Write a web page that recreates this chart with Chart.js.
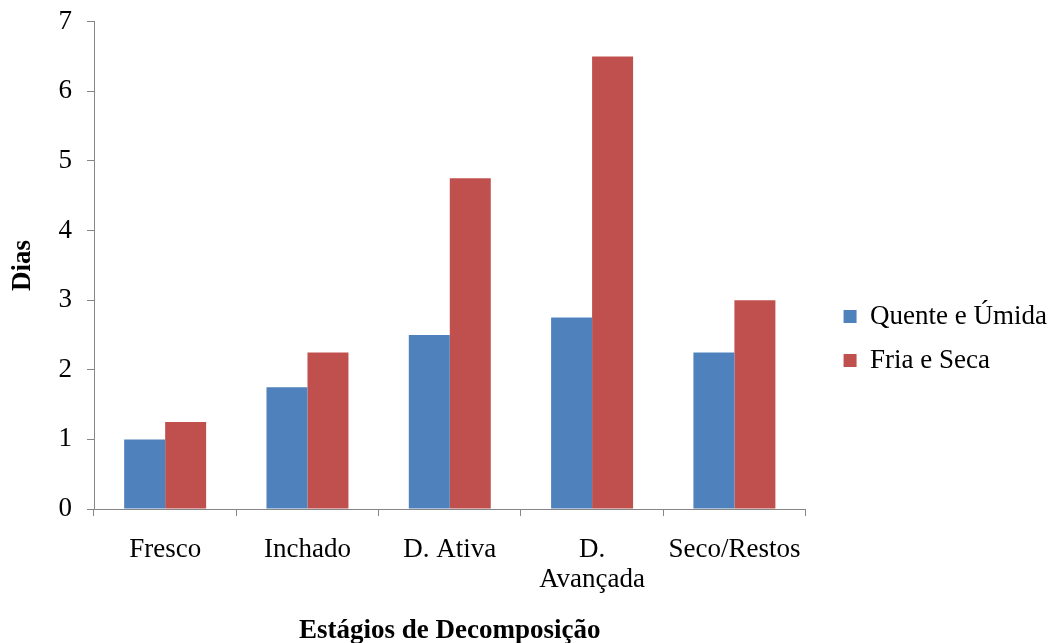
<!DOCTYPE html>
<html>
<head>
<meta charset="utf-8">
<script src="https://cdn.jsdelivr.net/npm/chart.js@4"></script>
<style>
  html, body { margin: 0; padding: 0; background: #fff; }
  #wrap { width: 1053px; height: 643px; }
</style>
</head>
<body>
<div id="wrap"><canvas id="chart"></canvas></div>
<script>
// dados
var estagios = ['Fresco', 'Inchado', 'D. Ativa', ['D.', 'Avançada'], 'Seco/Restos'];
var quenteUmida = [1, 1.75, 2.5, 2.75, 2.25];
var friaSeca = [1.25, 2.25, 4.75, 6.5, 3];
var diasTicks = [0, 1, 2, 3, 4, 5, 6, 7];

var fonte = 'Liberation Serif, Times New Roman, serif';
var cinza = '#868686';

// alarga a caixa da legenda e empurra os itens para a direita
var ajusteLegenda = {
    id: 'ajusteLegenda',
    beforeLayout: function (chart) {
        var lg = chart.legend;
        if (lg && !lg._ajustado) {
            var fitOrig = lg.fit;
            lg.fit = function () {
                fitOrig.call(this);
                this.width += 17;
            };
            lg._ajustado = true;
        }
    },
    afterLayout: function (chart) {
        var lg = chart.legend;
        lg.left += 21;
        lg.top += 13;
    }
};

var ctx = document.getElementById('chart').getContext('2d');
var chart = new Chart(ctx, {
    type: 'bar',
    data: {
        labels: estagios,
        datasets: [{
            label: 'Quente e Úmida',
            data: quenteUmida,
            backgroundColor: '#4F81BD'
        }, {
            label: 'Fria e Seca',
            data: friaSeca,
            backgroundColor: '#C0504D'
        }]
    },
    options: {
        responsive: true,
        maintainAspectRatio: false,
        animation: false,
        datasets: {
            bar: { categoryPercentage: 0.576, barPercentage: 1 }
        },
        layout: { padding: { top: 21, right: 0, left: 0, bottom: 0 } },
        plugins: {
            tooltip: { enabled: false },
            legend: {
                position: 'right',
                labels: {
                    color: '#000',
                    font: { family: fonte, size: 27 },
                    boxWidth: 13,
                    boxHeight: 13,
                    padding: 17
                }
            }
        },
        scales: {
            x: {
                grid: { drawOnChartArea: false, drawTicks: true, tickLength: 7, color: cinza },
                border: { color: cinza, width: 1 },
                ticks: {
                    color: '#000',
                    font: { family: fonte, size: 27, lineHeight: 1.12 },
                    padding: 19,
                    maxRotation: 0,
                    autoSkip: false
                },
                title: {
                    display: true,
                    text: 'Estágios de Decomposição',
                    color: '#000',
                    font: { family: fonte, size: 27, weight: 'bold', lineHeight: 0.9 },
                    padding: { top: 0, bottom: 0 }
                },
                afterFit: function (scale) { scale.height = 134; }
            },
            y: {
                min: 0,
                max: 7,
                afterBuildTicks: function (scale) {
                    scale.ticks = diasTicks.map(function (v) { return { value: v }; });
                },
                grid: { drawOnChartArea: false, drawTicks: true, tickLength: 7, color: cinza },
                border: { color: cinza, width: 1 },
                ticks: {
                    color: '#000',
                    font: { family: fonte, size: 27, lineHeight: 0.5 },
                    padding: 15
                },
                title: {
                    display: true,
                    text: 'Dias',
                    color: '#000',
                    font: { family: fonte, size: 27, weight: 'bold' },
                    padding: { top: 7, bottom: 0 }
                },
                afterFit: function (scale) { scale.width = 94; }
            }
        }
    },
    plugins: [ajusteLegenda]
});
</script>
</body>
</html>
